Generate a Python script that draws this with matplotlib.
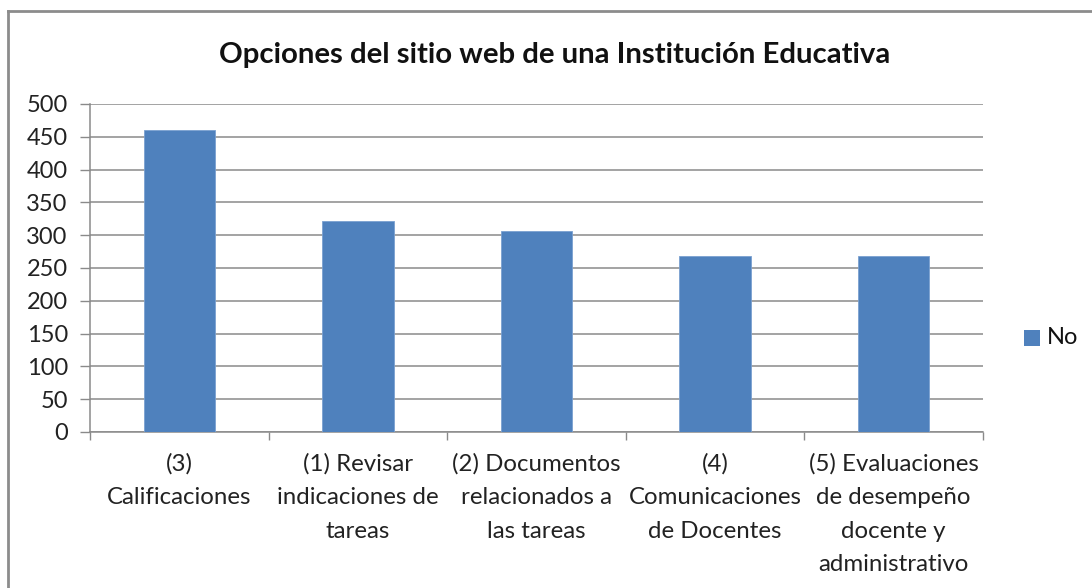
import matplotlib
matplotlib.use("Agg")
import matplotlib.pyplot as plt
from matplotlib.lines import Line2D
from matplotlib.patches import Rectangle
import numpy as np

categories = ["(3)\nCalificaciones", "(1) Revisar\nindicaciones de\ntareas",
              "(2) Documentos\nrelacionados a\nlas tareas", "(4)\nComunicaciones\nde Docentes",
              "(5) Evaluaciones\nde desempeño\ndocente y\nadministrativo"]
values = [461, 321, 307, 269, 269]
series_name = "No"
title = "Opciones del sitio web de una Institución Educativa"
yticks = [0, 50, 100, 150, 200, 250, 300, 350, 400, 450, 500]

W, H = 1092, 588
fig = plt.figure(figsize=(W/100, H/100), dpi=100)
plt.rcParams['font.family'] = ['Lato', 'DejaVu Sans']

ax = fig.add_axes([90/W, (H-432)/H, (983-90)/W, (432-104)/H])
x = np.arange(len(categories))
bar_color = "#4F81BD"
ax.bar(x, values, width=0.4, color=bar_color, edgecolor="#7aa0d0", linewidth=0.6, zorder=3, label=series_name)
ax.set_xlim(-0.5, len(categories)-0.5)
ax.set_ylim(0, 500)
ax.set_yticks(yticks)
ax.set_yticklabels([str(v) for v in yticks], fontsize=17, color="#222222")
ax.yaxis.grid(True, color="#8a8a8a", linewidth=1.1, zorder=0)
ax.set_axisbelow(True)

ax.set_xticks(x)
ax.set_xticklabels(categories, fontsize=17.3, color="#222222", linespacing=1.74)
ax.tick_params(axis='x', which='major', length=0, pad=15)
ax.set_xticks(np.arange(-0.5, len(categories), 1), minor=True)
ax.tick_params(axis='x', which='minor', length=6, width=1, color="#8a8a8a", direction='out')
ax.tick_params(axis='y', length=7, width=1, color="#8a8a8a", pad=9)

for s in ['top', 'right']:
    ax.spines[s].set_visible(False)
for s in ['left', 'bottom']:
    ax.spines[s].set_color("#8a8a8a")
    ax.spines[s].set_linewidth(1.1)

fig.text(555/W, 1-55/H, title, ha='center', va='center', fontsize=21.2, fontweight='bold', color="#111111")

# legend
fig.patches.append(Rectangle((1024/W, 1-346/H), 16/W, 16/H, transform=fig.transFigure,
                             facecolor=bar_color, edgecolor='none'))
fig.text(1047/W, 1-337/H, series_name, ha='left', va='center', fontsize=17, color="#111111")

# outer border (left and top)
fig.add_artist(Line2D([7.5/W, 7.5/W], [0, 1-11/H], transform=fig.transFigure, color="#8c8c8c", linewidth=2))
fig.add_artist(Line2D([7.5/W, 1], [1-11/H, 1-11/H], transform=fig.transFigure, color="#8c8c8c", linewidth=2))

fig.savefig("out.png", dpi=100, facecolor="white")
